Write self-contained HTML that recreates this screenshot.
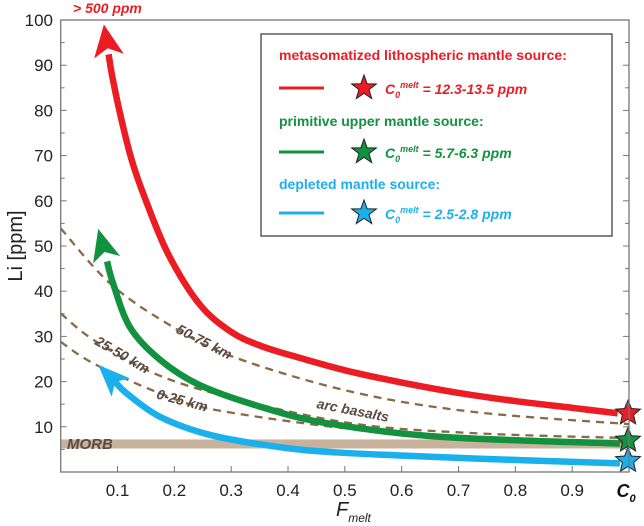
<!DOCTYPE html>
<html><head><meta charset="utf-8"><style>
body{margin:0;background:#fff;}
svg{display:block;font-family:"Liberation Sans",Arial,sans-serif;}
</style></head><body>
<svg id="chart" width="644" height="526" viewBox="0 0 644 526" xmlns="http://www.w3.org/2000/svg">
<g id="bands"></g><g id="dashes"></g><g id="curves"></g><g id="axes"></g><g id="labels"></g>
</svg>
<script>
const xTicks=[0.1,0.2,0.3,0.4,0.5,0.6,0.7,0.8,0.9];
const yTicks=[10,20,30,40,50,60,70,80,90,100];
const morbRange=[5.2,7.2];
const redF=[0.076,0.09,0.105,0.125,0.15,0.19,0.245,0.3,0.35,0.4,0.5,0.6,0.7,0.8,0.9,0.98];
const redLi=[99,88,79,69,60,48,37,31,28,26,22.5,19.8,17.5,15.7,14.2,13];
const greenF=[0.066,0.092,0.122,0.175,0.245,0.35,0.468,0.667,0.984];
const greenLi=[53.8,41.8,32,24.8,19.2,14.5,10.8,7.8,6.3];
const blueF=[0.066,0.116,0.175,0.263,0.38,0.49,0.726,0.984];
const blueLi=[23.7,17.4,12.2,8.2,5.6,4.3,3.0,1.9];
const d5075F=[0,0.087,0.192,0.303,0.51,0.726,1.0];
const d5075Li=[53.9,41.7,32.5,25.5,17.8,13.3,10.6];
const d2550F=[0,0.058,0.163,0.292,0.51,0.726,1.0];
const d2550Li=[35.1,29.2,21.9,16.7,10.8,8.6,7.5];
const d025F=[0,0.058,0.175,0.274,0.527,0.75,1.0];
const d025Li=[28.8,24,17.4,13.7,9.3,7.5,6.5];
const stars=[13,7,2.5];

const X=f=>60.7+f*568.3, Y=v=>472-v*4.52;
const NS="http://www.w3.org/2000/svg";
function mk(tag,attrs,parent,txt){const e=document.createElementNS(NS,tag);for(const k in attrs)e.setAttribute(k,attrs[k]);if(txt!==undefined)e.textContent=txt;document.getElementById(parent).appendChild(e);return e;}
function smooth(fs,vs){const p=fs.map((f,i)=>[X(f),Y(vs[i])]);let d=`M${p[0][0]},${p[0][1]}`;for(let i=0;i<p.length-1;i++){const p0=p[i-1]||p[i],p1=p[i],p2=p[i+1],p3=p[i+2]||p2;const c1=[p1[0]+(p2[0]-p0[0])/6,p1[1]+(p2[1]-p0[1])/6],c2=[p2[0]-(p3[0]-p1[0])/6,p2[1]-(p3[1]-p1[1])/6];d+=`C${c1[0]},${c1[1]} ${c2[0]},${c2[1]} ${p2[0]},${p2[1]}`;}return d;}
function starPts(cx,cy,R){let s=[];for(let i=0;i<10;i++){const r=i%2?R*0.45:R;const a=-Math.PI/2+i*Math.PI/5;s.push((cx+r*Math.cos(a)).toFixed(1)+','+(cy+r*Math.sin(a)).toFixed(1));}return s.join(' ');}

let e=mk('rect',{x:X(0),y:Y(morbRange[1]),width:X(1)-X(0),height:Y(morbRange[0])-Y(morbRange[1]),fill:'#c9b29b'},'bands');


[[d5075F,d5075Li,'dashed-50-75km'],[d2550F,d2550Li,'dashed-25-50km'],[d025F,d025Li,'dashed-0-25km']].forEach(a=>{
 const p=mk('path',{d:smooth(a[0],a[1]),fill:'none',stroke:'#8a6a45','stroke-width':2.3,'stroke-dasharray':'8,6'},'dashes');
 
 
});
[[blueF,blueLi,'#1ab0ec','blue-curve',13],[greenF,greenLi,'#12913f','green-curve',14],[redF,redLi,'#ec1c24','red-curve',15]].forEach(a=>{
 const fs=a[0],vs=a[1];
 const x0=X(fs[0]),y0=Y(vs[0]),x1=X(fs[1]),y1=Y(vs[1]);
 const ang=Math.atan2(y0-y1,x0-x1);
 const L=32,W=a[4];
 const bx=x0-L*Math.cos(ang),by=y0-L*Math.sin(ang);
 const f2=[fs[0]+(fs[1]-fs[0])*0.6].concat(fs.slice(1)),v2=[vs[0]+(vs[1]-vs[0])*0.6].concat(vs.slice(1));
 const p=mk('path',{d:smooth(f2,v2),fill:'none',stroke:a[2],'stroke-width':6.5,'stroke-linecap':'butt'},'curves');
 
 
 const nx=-Math.sin(ang),ny=Math.cos(ang);
 const mx=x0-L*0.75*Math.cos(ang),my=y0-L*0.75*Math.sin(ang);
 const h=mk('polygon',{points:`${x0},${y0} ${bx+nx*W},${by+ny*W} ${mx},${my} ${bx-nx*W},${by-ny*W}`,fill:a[2]},'curves');
 
 
});
const sc=['#ec1c24','#12913f','#1ab0ec'];
stars.forEach((v,i)=>{const s=mk('polygon',{points:starPts(X(1)-1,Y(v),13),fill:sc[i],stroke:'#222','stroke-width':1},'curves');
 
 });
e=mk('rect',{x:X(0),y:Y(100),width:X(1)-X(0),height:Y(0)-Y(100),fill:'none',stroke:'#777','stroke-width':1.3},'axes');


yTicks.forEach(v=>{
 mk('line',{x1:X(0),x2:X(0)+6,y1:Y(v),y2:Y(v),stroke:'#777'},'axes');
 mk('line',{x1:X(1),x2:X(1)-6,y1:Y(v),y2:Y(v),stroke:'#777'},'axes');
 mk('line',{x1:X(0),x2:X(0)+4,y1:Y(v-5),y2:Y(v-5),stroke:'#777'},'axes');
 mk('line',{x1:X(1),x2:X(1)-4,y1:Y(v-5),y2:Y(v-5),stroke:'#777'},'axes');
 const t=mk('text',{x:53,y:Y(v)+6,'text-anchor':'end','font-size':17,fill:'#222'},'axes',String(v));
 
 
});
xTicks.forEach(f=>{
 mk('line',{x1:X(f),x2:X(f),y1:Y(0),y2:Y(0)-6,stroke:'#777'},'axes');
 const t=mk('text',{x:X(f),y:496,'text-anchor':'middle','font-size':17,fill:'#222'},'axes',String(f));
 
 
});
</script>
<svg style="position:absolute;left:0;top:0" width="644" height="526" xmlns="http://www.w3.org/2000/svg">
<text x="626" y="497" text-anchor="middle" font-size="18" font-weight="bold" font-style="italic" fill="#111" font-family="Liberation Sans">C<tspan font-size="11" dy="5">0</tspan></text>
<text x="336" y="516" font-size="20" font-style="italic" fill="#222" font-family="Liberation Sans">F<tspan font-size="12" dy="6">melt</tspan></text>
<text transform="translate(22,246) rotate(-90)" text-anchor="middle" font-size="20" fill="#222" font-family="Liberation Sans">Li [ppm]</text>
<text x="73" y="13" font-size="14" font-weight="bold" font-style="italic" fill="#ec1c24" font-family="Liberation Sans">&gt; 500 ppm</text>
<g font-family="Liberation Sans" font-weight="bold" font-style="italic" fill="#5a4a42" font-size="14">
<text transform="translate(202,346) rotate(27)" text-anchor="middle">50-75 km</text>
<text transform="translate(120,359) rotate(30)" text-anchor="middle">25-50 km</text>
<text transform="translate(181,405) rotate(15)" text-anchor="middle">0-25 km</text>
<text transform="translate(352,415) rotate(11)" text-anchor="middle">arc basalts</text>
<text x="67" y="449" font-size="15">MORB</text>
</g>
<g font-family="Liberation Sans" font-weight="bold" font-size="14">
<rect x="261" y="34" width="351" height="202" fill="#fff" stroke="#333" stroke-width="1.2"/>
<text x="279" y="60" fill="#ec1c24">metasomatized lithospheric mantle source:</text>
<line x1="279" x2="324" y1="88" y2="88" stroke="#ec1c24" stroke-width="3"/>
<polygon points="364,75 367.1,83.7 376.4,84 369,89.6 371.7,98.5 364,93.3 356.3,98.5 359,89.6 351.6,84 360.9,83.7" fill="#ec1c24" stroke="#222"/>
<text x="385" y="94" fill="#ec1c24" font-style="italic">C<tspan font-size="9" dy="4">0</tspan><tspan font-size="9" dy="-10">melt</tspan><tspan dy="6"> = 12.3-13.5 ppm</tspan></text>
<text x="279" y="126" fill="#12913f">primitive upper mantle source:</text>
<line x1="279" x2="324" y1="152" y2="152" stroke="#12913f" stroke-width="3"/>
<polygon points="364,139 367.1,147.7 376.4,148 369,153.6 371.7,162.5 364,157.3 356.3,162.5 359,153.6 351.6,148 360.9,147.7" fill="#12913f" stroke="#222"/>
<text x="385" y="158" fill="#12913f" font-style="italic">C<tspan font-size="9" dy="4">0</tspan><tspan font-size="9" dy="-10">melt</tspan><tspan dy="6"> = 5.7-6.3 ppm</tspan></text>
<text x="279" y="189" fill="#1ab0ec">depleted mantle source:</text>
<line x1="279" x2="324" y1="213" y2="213" stroke="#1ab0ec" stroke-width="3"/>
<polygon points="364,200 367.1,208.7 376.4,209 369,214.6 371.7,223.5 364,218.3 356.3,223.5 359,214.6 351.6,209 360.9,208.7" fill="#1ab0ec" stroke="#222"/>
<text x="385" y="219" fill="#1ab0ec" font-style="italic">C<tspan font-size="9" dy="4">0</tspan><tspan font-size="9" dy="-10">melt</tspan><tspan dy="6"> = 2.5-2.8 ppm</tspan></text>
</g>
</svg>
</body></html>
